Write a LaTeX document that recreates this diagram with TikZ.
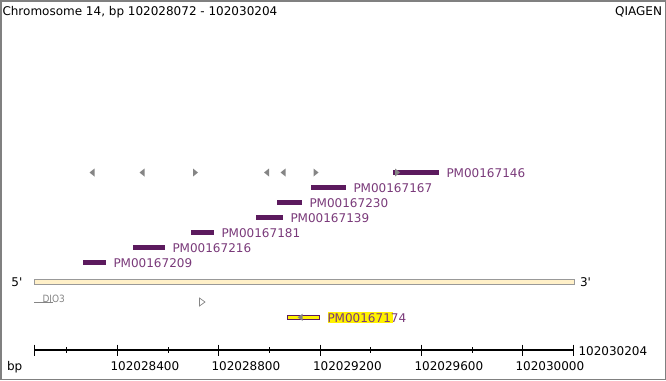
\documentclass[tikz,border=0pt]{standalone}
\usepackage{fontspec}
\setmainfont{DejaVu Sans}
\newfontfamily\condfont{DejaVu Sans Condensed}
\definecolor{barpurple}{HTML}{5C1A5E}
\definecolor{lblpurple}{HTML}{7A3A7A}
\definecolor{framegray}{HTML}{808080}
\definecolor{trigray}{HTML}{858585}
\definecolor{chrfill}{HTML}{FFF0C8}
\definecolor{chrdraw}{HTML}{999999}
\begin{document}
\begin{tikzpicture}[x=1pt,y=-1pt,
  every node/.style={inner sep=0pt,outer sep=0pt},
  txt/.style={font=\fontsize{12}{14}\selectfont,anchor=base west},
  pbar/.style={fill=barpurple,minimum height=5pt,anchor=west},
  plabel/.style={txt,text=lblpurple},
  tickmaj/.style={line width=1pt},
]
\useasboundingbox (0,0) rectangle (666,380);
\draw[framegray,line width=1.5pt] (0.75,0.75) rectangle (665.25,379.25);

% title
\node[txt] (title) at (2.5,16) {Chromosome 14, bp 102028072 - 102030204};
\node[txt,anchor=base east] (qiagen) at (662,16) {QIAGEN};

% direction triangles
\foreach \x in {92,142,266.5,283}{
  \fill[trigray] (\x-2.5,172.5) -- (\x+2.5,168.5) -- (\x+2.5,176.5) -- cycle;}
% purple bars
\node[pbar,minimum width=46pt] (b146) at (393,172.5) {};
\node[pbar,minimum width=35pt] (b167) at (311,187.5) {};
\node[pbar,minimum width=25pt] (b230) at (277,202.5) {};
\node[pbar,minimum width=27pt] (b139) at (255.7,217.5) {};
\node[pbar,minimum width=23pt] (b181) at (191,232.5) {};
\node[pbar,minimum width=32pt] (b216) at (133,247.5) {};
\node[pbar,minimum width=23.3pt] (b209) at (82.7,262.5) {};
\foreach \x in {195.5,316,397.5}{
  \fill[trigray] (\x+2.5,172.5) -- (\x-2.5,168.5) -- (\x-2.5,176.5) -- cycle;}

\node[plabel] (l146) at (446.5,177.8) {PM00167146};
\node[plabel] (l167) at (353.5,192.8) {PM00167167};
\node[plabel] (l230) at (309.5,207.8) {PM00167230};
\node[plabel] (l139) at (290.5,222.8) {PM00167139};
\node[plabel] (l181) at (221.5,237.8) {PM00167181};
\node[plabel] (l216) at (172.5,252.8) {PM00167216};
\node[plabel] (l209) at (113.5,267.8) {PM00167209};

% chromosome
\node[draw=chrdraw,fill=chrfill,line width=0.8pt,minimum width=540pt,minimum height=5.4pt,anchor=west] (chr) at (34,282) {};
\node[txt] (five) at (11.5,286) {5\textquotesingle};
\node[txt] (three) at (580,286) {3\textquotesingle};

% gene DIO3
\draw[trigray,line width=0.7pt] (34,302.3) -- (53,302.3);
\node[anchor=base west,text=trigray,font=\condfont\fontsize{10}{12}\selectfont] (dio3) at (42.5,302) {DIO3};
\draw[trigray,line width=0.7pt,fill=white] (199.5,298) -- (205,302) -- (199.5,306) -- cycle;

% yellow element
\node[draw=barpurple,fill=yellow,line width=0.9pt,minimum width=32pt,minimum height=4.3pt,anchor=west] (y174) at (287.3,317.3) {};
\fill[trigray] (297.5,317.3) -- (302.5,313.8) -- (302.5,320.8) -- cycle;
\node[fill=yellow,minimum width=64.7pt,minimum height=11pt,anchor=west] (hl174) at (328,317.8) {};
\node[plabel] (l174) at (327.5,322.5) {PM00167174};

% axis
\draw[line width=1.2pt] (34,350) -- (574,350);
\foreach \x in {34,117.3,218.3,320,421.3,522.3,573.7}{
  \draw[tickmaj] (\x,344.5) -- (\x,356);}
\foreach \x in {66.7,168.3,269.3,370.7,472.3}{
  \draw[line width=0.9pt] (\x,347) -- (\x,353);}
\node[txt] (bp) at (7,370) {bp};
\node[txt] (t1) at (110.5,370) {102028400};
\node[txt] (t2) at (211.5,370) {102028800};
\node[txt] (t3) at (313,370) {102029200};
\node[txt] (t4) at (414.5,370) {102029600};
\node[txt] (t5) at (515.5,370) {102030000};
\node[txt] (tend) at (578.5,355) {102030204};
\end{tikzpicture}
\end{document}
